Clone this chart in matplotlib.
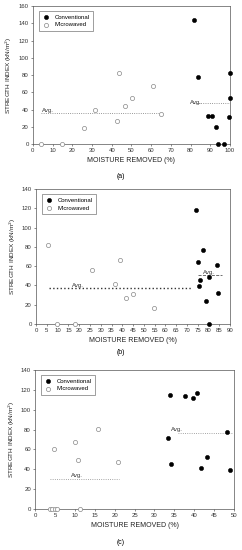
"""
Strength index vs moisture removed, conventional vs microwaved (three panels).
"""

import matplotlib
matplotlib.use("Agg")
import matplotlib.pyplot as plt

plt.rcParams["font.family"] = ["Liberation Sans", "DejaVu Sans"]

# Panel (a)
A_CONV_X = [82, 84, 89, 91, 93, 94, 97, 99.5, 100, 100]
A_CONV_Y = [144, 78, 33, 32, 20, 0, 0, 31, 53, 82]
A_MW_X = [4, 15, 26, 31.5, 42.5, 43.5, 47, 50.5, 61, 65]
A_MW_Y = [0, 0, 19, 40, 27, 82, 44, 54, 67, 35]
A_MW_AVG = (4, 65, 36)
A_CONV_AVG = (82, 100, 48)

# Panel (b)
B_CONV_X = [74, 75.3, 75.4, 76.2, 77.6, 78.7, 80, 80.2, 83.8, 84.5]
B_CONV_Y = [118, 64, 39, 46, 77, 23.5, 0, 49, 61, 32.5]
B_MW_X = [5.5, 9.8, 18, 26, 36.8, 39, 41.7, 45, 54.7]
B_MW_Y = [82.5, 0, 0, 56.5, 41, 66, 26.7, 31, 16.7]
B_MW_AVG = (6, 72.5, 37)
B_CONV_AVG = (75, 86, 51)

# Panel (c)
C_CONV_X = [34, 37.7, 39.7, 40.6, 33.3, 34.1, 41.7, 43.1, 48.3, 49]
C_CONV_Y = [114.8, 113.5, 111.8, 116.5, 71, 45.8, 41.5, 52.5, 77.5, 39]
C_MW_X = [3.7, 4.2, 4.8, 5.0, 5.6, 10.1, 10.9, 11.2, 15.7, 20.8]
C_MW_Y = [0, 0, 60.5, 0, 0, 67, 49, 0, 80.8, 47.5]
C_MW_AVG = (3.8, 21, 30)
C_CONV_AVG = (36, 49.5, 76)

XLABEL = "MOISTURE REMOVED (%)"
YLABEL = "STREGTH INDEX (kN/m$^2$)"

FS = 4.3


def style_axis(ax, xlim, xticks, ylim, yticks):
    ax.set_xlim(*xlim)
    ax.set_ylim(*ylim)
    ax.set_xticks(xticks)
    ax.set_yticks(yticks)
    ax.tick_params(labelsize=FS, length=1.5, width=0.4, pad=1.5, colors="#333333")
    for s in ax.spines.values():
        s.set_linewidth(0.5)
        s.set_color("#555555")
    ax.set_xlabel(XLABEL, fontsize=5, labelpad=3, color="#222222")
    ax.set_ylabel(YLABEL, fontsize=4.6, labelpad=3, color="#222222")


def draw_points(ax, cx, cy, mx, my, legend):
    ax.scatter(cx, cy, s=9, c="black", edgecolors="black", linewidths=0.4,
               label="Conventional", zorder=3, clip_on=False)
    ax.scatter(mx, my, s=9, facecolors="white", edgecolors="#888888",
               linewidths=0.5, label="Microwaved", zorder=3, clip_on=False)
    if legend:
        leg = ax.legend(loc="upper left", fontsize=FS, frameon=True, fancybox=False,
                        edgecolor="#555555", handletextpad=0.8, borderpad=0.6,
                        labelspacing=0.4, handlelength=1.2,
                        bbox_to_anchor=(0.015, 0.985))
        leg.get_frame().set_linewidth(0.5)


def avg_line(ax, seg, ls, color, lw, tx, ty):
    x0, x1, y = seg
    ax.plot([x0, x1], [y, y], linestyle=ls, color=color, linewidth=lw, zorder=2)
    ax.text(tx, ty, "Avg.", fontsize=FS, color="#333333", zorder=4)


fig = plt.figure(figsize=(2.42, 5.5), dpi=100)

# (a)
ax = fig.add_axes([0.136, 0.738, 0.814, 0.251])
draw_points(ax, A_CONV_X, A_CONV_Y, A_MW_X, A_MW_Y, True)
avg_line(ax, A_MW_AVG, ":", "#777777", 0.6, 4.5, 37)
avg_line(ax, A_CONV_AVG, ":", "#777777", 0.6, 79.5, 47)
style_axis(ax, (0, 100), range(0, 101, 10), (0, 160), range(0, 161, 20))
fig.text(0.5, 1 - 177 / 550, "(a)", ha="center", va="center", fontsize=5)

# (b)
ax = fig.add_axes([0.149, 0.411, 0.802, 0.245])
draw_points(ax, B_CONV_X, B_CONV_Y, B_MW_X, B_MW_Y, True)
avg_line(ax, B_MW_AVG, ":", "#333333", 1.0, 16.5, 38)
avg_line(ax, B_CONV_AVG, "--", "#555555", 0.6, 77.5, 52)
style_axis(ax, (0, 90), range(0, 91, 5), (0, 140), range(0, 141, 20))
fig.text(0.5, 1 - 353 / 550, "(b)", ha="center", va="center", fontsize=5)

# (c)
ax = fig.add_axes([0.145, 0.0745, 0.822, 0.253])
draw_points(ax, C_CONV_X, C_CONV_Y, C_MW_X, C_MW_Y, True)
avg_line(ax, C_MW_AVG, ":", "#888888", 0.6, 9.0, 32)
avg_line(ax, C_CONV_AVG, ":", "#888888", 0.6, 34.2, 79)
style_axis(ax, (0, 50), range(0, 51, 5), (0, 140), range(0, 141, 20))
fig.text(0.5, 1 - 542 / 550, "(c)", ha="center", va="center", fontsize=5)

fig.savefig("out.png", dpi=100)
